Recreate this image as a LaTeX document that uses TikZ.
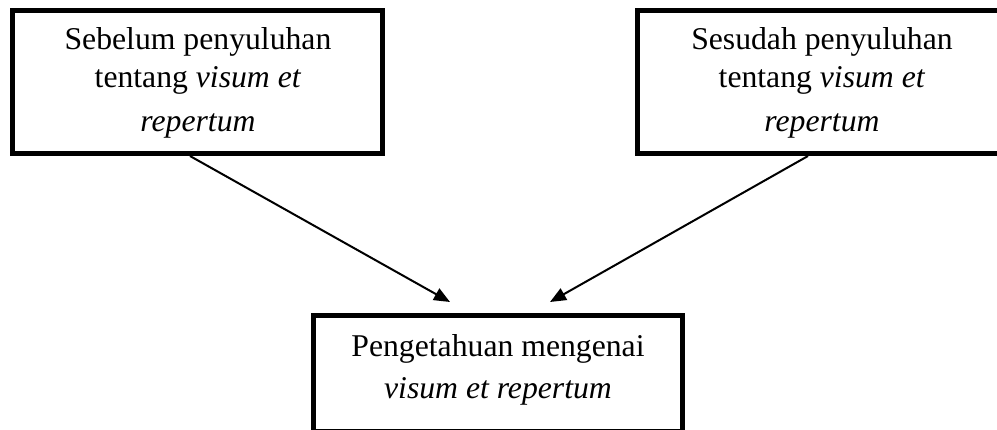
\documentclass[tikz,border=0pt]{standalone}
\usepackage{fontspec}
\setmainfont{Liberation Serif}
\usetikzlibrary{arrows.meta}
\begin{document}
\begin{tikzpicture}[x=1pt,y=-1pt,
  box/.style={draw=black, line width=5pt, rectangle, inner sep=0pt, fill=white},
  lbl/.style={anchor=base, inner sep=0pt, font=\fontsize{31.7}{38}\selectfont},
  arr/.style={line width=2pt, -{Triangle[length=16pt,width=13pt]}}]
\useasboundingbox (0,0) rectangle (997,429);
\clip (0,0) rectangle (997,429);
\fill[white] (0,0) rectangle (997,429);
% boxes
\node[box, minimum width=370pt, minimum height=143.5pt] (b1) at (197.5,81.75) {};
\node[box, minimum width=372pt, minimum height=143.5pt] (b2) at (823.5,81.75) {};
\node[box, minimum width=369pt, minimum height=116pt] (b3) at (498,373.5) {};
% texts
\node[lbl] (t1a) at (198,49) {Sebelum penyuluhan};
\node[lbl] (t1b) at (198,87) {tentang \textit{visum et}};
\node[lbl] (t1c) at (198,131) {\textit{repertum}};
\node[lbl] (t2a) at (822,49) {Sesudah penyuluhan};
\node[lbl] (t2b) at (822,87) {tentang \textit{visum et}};
\node[lbl] (t2c) at (822,131) {\textit{repertum}};
\node[lbl] (t3a) at (498,356) {Pengetahuan mengenai};
\node[lbl] (t3b) at (498,398) {\textit{visum et repertum}};
% arrows
\coordinate (e1) at (450,302);
\coordinate (e2) at (550,302);
\draw[arr] (b1.south -| 190,0) -- (e1);
\draw[arr] (b2.south -| 808,0) -- (e2);
\end{tikzpicture}
\end{document}
